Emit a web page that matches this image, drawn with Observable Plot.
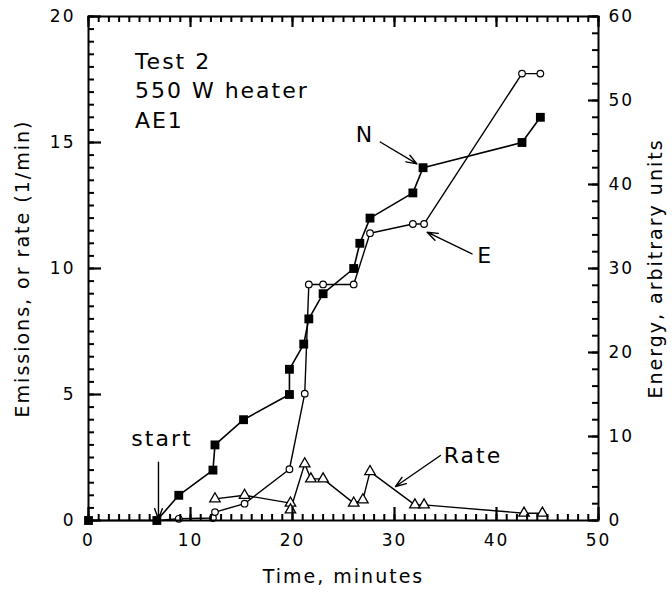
<!DOCTYPE html>
<html><head><meta charset="utf-8">
<script src="https://cdn.jsdelivr.net/npm/d3@7"></script>
<script src="https://cdn.jsdelivr.net/npm/@observablehq/plot@0.6"></script>
<style>
body{margin:0;background:#fff}
#chart svg{display:block}
#chart svg text{letter-spacing:2px}
</style>
</head><body><div id="chart"></div>
<script>
// ---- data ----
const nTime  = [0, 6.7, 8.85, 12.2, 12.4, 15.2, 19.7, 19.7, 21.1, 21.6, 23.0, 26.0, 26.6, 27.6, 31.8, 32.8, 42.5, 44.3];
const nCount = [0, 0, 1, 2, 3, 4, 5, 6, 7, 8, 9, 10, 11, 12, 13, 14, 15, 16];

const eTime   = [6.7, 8.85, 12.2, 12.4, 15.3, 19.7, 21.2, 21.6, 23.0, 26.0, 27.6, 31.8, 32.9, 42.5, 44.3];
const eEnergy = [0, 0.2, 0.3, 1.0, 2.0, 6.1, 15.1, 28.1, 28.1, 28.1, 34.2, 35.3, 35.3, 53.2, 53.2];

const rTime = [12.4, 15.3, 19.8, 19.8, 21.2, 21.8, 23.0, 26.0, 26.9, 27.6, 32.0, 32.9, 42.7, 44.5];
const rRate = [0.86, 1.0, 0.69, 0.42, 2.25, 1.65, 1.65, 0.69, 0.82, 1.94, 0.62, 0.62, 0.29, 0.29];

const xTicks      = [0, 10, 20, 30, 40, 50];
const xMinor      = d3.range(0, 51, 1);
const yLeftTicks  = [0, 5, 10, 15, 20];
const yLeftMinor  = d3.range(0, 20.01, 0.5);
const yRightTicks = [0, 10, 20, 30, 40, 50, 60];
const yRightMinor = d3.range(0, 61, 2);
const infoLines   = ["Test 2", "550 W heater", "AE1"];

// right axis (energy 0–60) shares the left scale (0–20)
const ratio = 3;
const N = nTime.map((t, i) => ({t, v: nCount[i]}));
const E = eTime.map((t, i) => ({t, v: eEnergy[i]}));
const R = rTime.map((t, i) => ({t, v: rRate[i]}));

const W = 672, H = 597, mL = 88, mR = 74, mT = 16, mB = 77;
const xMax = 50, yMax = 20;
const pxX = (W - mL - mR) / xMax;   // pixels per minute
const pxY = (H - mT - mB) / yMax;   // pixels per left-axis unit
const ink = "black";
const tMinor = {stroke: ink, strokeWidth: 2};
const tMajor = {stroke: ink, strokeWidth: 2.2};
const font = "DejaVu Sans";
const chart = Plot.plot({
  width: W, height: H,
  marginLeft: mL, marginRight: mR, marginTop: mT, marginBottom: mB,
  x: {domain: [0, xMax]},
  y: {domain: [0, yMax]},
  style: {fontFamily: font, fontSize: "17px", color: "black"},
  marks: [
    // tick labels
    Plot.axisX({anchor: "bottom", ticks: xTicks, tickSize: 0, tickPadding: 13, label: null, fontSize: 17}),
    Plot.axisY({anchor: "left", ticks: yLeftTicks, tickSize: 0, tickPadding: 13, label: null, fontSize: 17}),
    Plot.axisY({anchor: "right", ticks: yRightTicks.map(v => v / ratio), tickFormat: d => String(Math.round(d * ratio)),
                tickSize: 0, tickPadding: 10, label: null, fontSize: 17}),

    // series
    Plot.line(R, {x: "t", y: "v", stroke: ink, strokeWidth: 1.4}),
    Plot.line(E, {x: "t", y: d => d.v / ratio, stroke: ink, strokeWidth: 1.4}),
    Plot.line(N, {x: "t", y: "v", stroke: ink, strokeWidth: 1.6}),
    Plot.dot(R, {x: "t", y: "v", symbol: "triangle", r: 3.9, fill: "white", stroke: ink, strokeWidth: 1.3}),
    Plot.dot(E, {x: "t", y: d => d.v / ratio, symbol: "circle", r: 3.3, fill: "white", stroke: ink, strokeWidth: 1.2}),
    Plot.dot(N, {x: "t", y: "v", symbol: "square", r: 5, fill: ink, stroke: "none"}),

    // annotations
    Plot.text(infoLines, {x: 4.55, y: (d, i) => 18.2 - i * 1.17, text: d => d, textAnchor: "start", fontSize: 22}),
    Plot.text(["start"], {x: 7.2, y: 3.25, text: d => d, fontSize: 22}),
    Plot.text(["N"], {x: 27.1, y: 15.3, text: d => d, fontSize: 22}),
    Plot.text(["E"], {x: 38.9, y: 10.5, text: d => d, fontSize: 22}),
    Plot.text(["Rate"], {x: 37.7, y: 2.58, text: d => d, fontSize: 22}),
    Plot.arrow([0], {x1: 6.86, y1: 2.31, x2: 6.86, y2: 0.05, stroke: ink, strokeWidth: 1.4, headLength: 12, headAngle: 40}),
    Plot.arrow([0], {x1: 28.6, y1: 15.02, x2: 32.2, y2: 14.15, stroke: ink, strokeWidth: 1.4, headLength: 12, headAngle: 40}),
    Plot.arrow([0], {x1: 37.6, y1: 10.58, x2: 33.2, y2: 11.44, stroke: ink, strokeWidth: 1.4, headLength: 12, headAngle: 40}),
    Plot.arrow([0], {x1: 34.5, y1: 2.58, x2: 30.1, y2: 1.35, stroke: ink, strokeWidth: 1.4, headLength: 12, headAngle: 40}),

    // axis titles
    Plot.text(["Time, minutes"], {frameAnchor: "bottom", dy: 62, text: d => d, fontSize: 19}),
    Plot.text(["Emissions, or rate (1/min)"], {frameAnchor: "left", dx: -66, rotate: -90, textAnchor: "middle", text: d => d, fontSize: 19}),
    Plot.text(["Energy, arbitrary units"], {frameAnchor: "right", dx: 57, rotate: -90, textAnchor: "middle", text: d => d, fontSize: 19}),

    // inward ticks (drawn last, lengths converted from pixels to data units)
    Plot.ruleX(xMinor, {x: d => d, y1: 0, y2: 6 / pxY, ...tMinor}),
    Plot.ruleX(xTicks, {x: d => d, y1: 0, y2: 13 / pxY, ...tMajor}),
    Plot.ruleX(xMinor, {x: d => d, y1: yMax - 6 / pxY, y2: yMax, ...tMinor}),
    Plot.ruleX(xTicks, {x: d => d, y1: yMax - 11 / pxY, y2: yMax, ...tMajor}),
    Plot.ruleY(yLeftMinor, {y: d => d, x1: 0, x2: 6 / pxX, ...tMinor}),
    Plot.ruleY(yLeftTicks, {y: d => d, x1: 0, x2: 13 / pxX, ...tMajor}),
    Plot.ruleY(yRightMinor, {y: d => d / ratio, x1: xMax - 6 / pxX, x2: xMax, ...tMinor}),
    Plot.ruleY(yRightTicks, {y: d => d / ratio, x1: xMax - 10 / pxX, x2: xMax, ...tMajor}),
    Plot.frame({stroke: ink, strokeWidth: 2})
  ]
});
document.getElementById("chart").append(chart);
</script>
</body></html>
